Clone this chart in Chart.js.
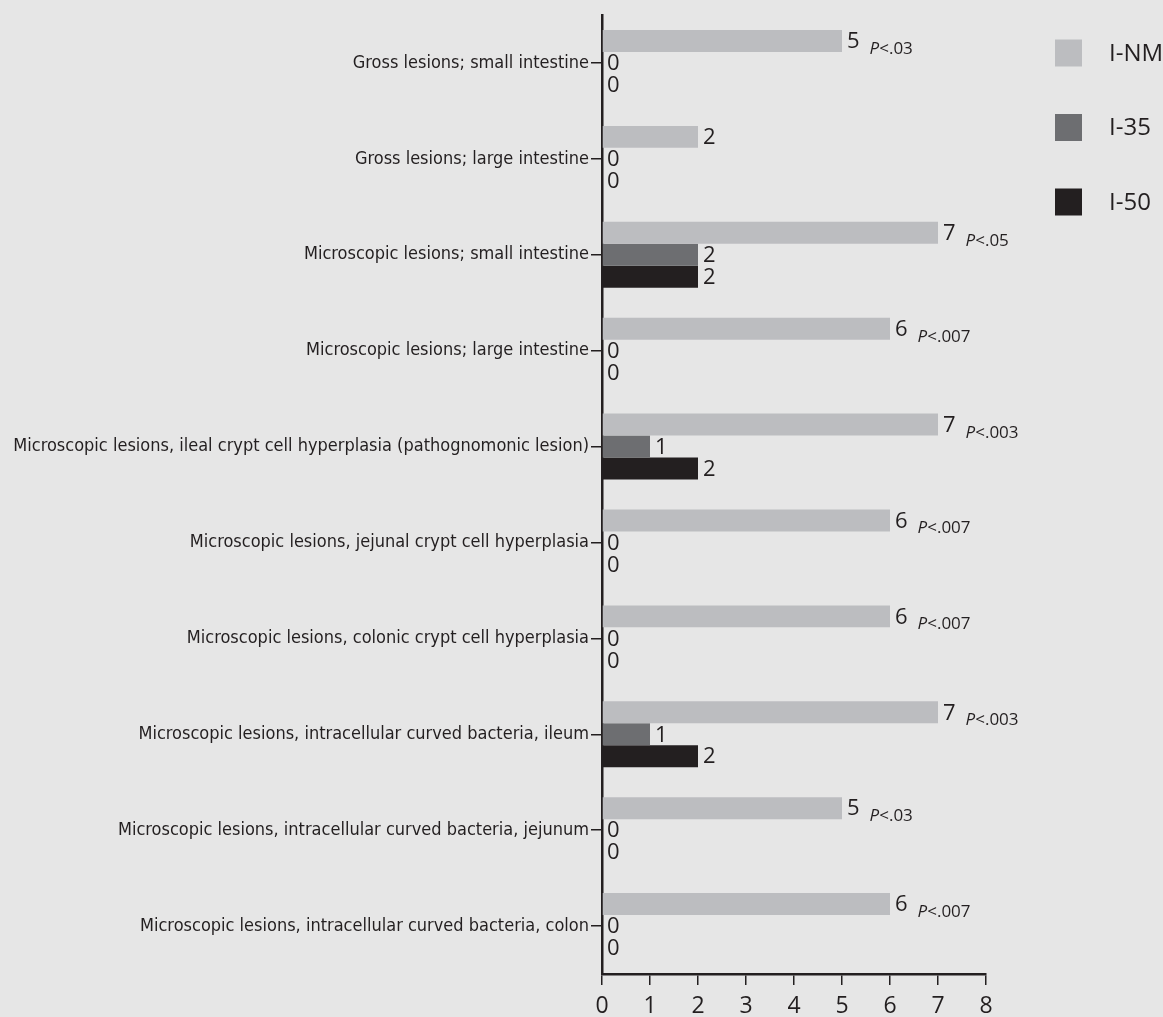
<!DOCTYPE html>
<html>
<head>
<meta charset="utf-8">
<script src="https://cdn.jsdelivr.net/npm/chart.js@4.4.1/dist/chart.umd.min.js"></script>
<style>
  html, body { margin: 0; padding: 0; background: #e6e6e6; }
  #wrap { width: 1163px; height: 1017px; position: relative; }
</style>
</head>
<body>
<div id="wrap"><canvas id="c" width="1163" height="1017"></canvas></div>
<script>
const categories = [
  'Gross lesions; small intestine',
  'Gross lesions; large intestine',
  'Microscopic lesions; small intestine',
  'Microscopic lesions; large intestine',
  'Microscopic lesions, ileal crypt cell hyperplasia (pathognomonic lesion)',
  'Microscopic lesions, jejunal crypt cell hyperplasia',
  'Microscopic lesions, colonic crypt cell hyperplasia',
  'Microscopic lesions, intracellular curved bacteria, ileum',
  'Microscopic lesions, intracellular curved bacteria, jejunum',
  'Microscopic lesions, intracellular curved bacteria, colon'
];
const seriesNames = ['I-NM', 'I-35', 'I-50'];
const valuesINM = [5, 2, 7, 6, 7, 6, 6, 7, 5, 6];
const valuesI35 = [0, 0, 2, 0, 1, 0, 0, 1, 0, 0];
const valuesI50 = [0, 0, 2, 0, 2, 0, 0, 2, 0, 0];
const pLabels = ['P<.03', '', 'P<.05', 'P<.007', 'P<.003', 'P<.007', 'P<.007', 'P<.003', 'P<.03', 'P<.007'];
const xMin = 0, xMax = 8, xStep = 1;

const colors = ['#bcbdc0', '#6d6e71', '#231f20'];
const ink = '#231f20';
const sans = '"Open Sans", "Noto Sans", sans-serif';
const narrow = '"DejaVu Sans Condensed", "DejaVu Sans", sans-serif';

const bgPlugin = {
  id: 'bg',
  beforeDraw(chart) {
    const ctx = chart.ctx;
    ctx.save();
    ctx.fillStyle = '#e6e6e6';
    ctx.fillRect(0, 0, chart.width, chart.height);
    ctx.restore();
  }
};

const valuePlugin = {
  id: 'values',
  afterDatasetsDraw(chart) {
    const ctx = chart.ctx;
    ctx.save();
    ctx.fillStyle = ink;
    chart.data.datasets.forEach((ds, di) => {
      const meta = chart.getDatasetMeta(di);
      meta.data.forEach((bar, i) => {
        const p = bar.getProps(['x', 'y', 'height'], true);
        const txt = String(ds.data[i]);
        ctx.font = '22px ' + sans;
        ctx.textAlign = 'left';
        ctx.textBaseline = 'middle';
        const tx = p.x + 5;
        ctx.fillText(txt, tx, p.y + 1);
        if (di === 0 && pLabels[i]) {
          const w = ctx.measureText(txt).width;
          let px = tx + w + 10;
          const py = p.y + p.height / 2 + 2;
          ctx.textBaseline = 'alphabetic';
          ctx.font = 'italic 17px ' + sans;
          ctx.fillText('P', px, py);
          px += ctx.measureText('P').width;
          ctx.font = '17px ' + sans;
          ctx.fillText(pLabels[i].slice(1), px, py);
        }
      });
    });
    ctx.restore();
  }
};

const legendPlugin = {
  id: 'customLegend',
  afterDraw(chart) {
    const ctx = chart.ctx;
    const area = chart.chartArea;
    ctx.save();
    chart.data.datasets.forEach((ds, i) => {
      const cy = 53 + i * 74.5;
      const x = area.right + 69;
      ctx.fillStyle = ds.backgroundColor;
      ctx.fillRect(x, cy - 13.5, 27, 27);
      ctx.fillStyle = ink;
      ctx.font = '24px ' + sans;
      ctx.textAlign = 'left';
      ctx.textBaseline = 'middle';
      ctx.fillText(ds.label, x + 54, cy + 1);
    });
    ctx.restore();
  }
};

new Chart(document.getElementById('c'), {
  type: 'bar',
  data: {
    labels: categories,
    datasets: [
      { label: seriesNames[0], data: valuesINM, backgroundColor: colors[0] },
      { label: seriesNames[1], data: valuesI35, backgroundColor: colors[1] },
      { label: seriesNames[2], data: valuesI50, backgroundColor: colors[2] }
    ]
  },
  options: {
    indexAxis: 'y',
    responsive: false,
    animation: false,
    devicePixelRatio: 1,
    layout: { padding: { left: 0, right: 177, top: 15, bottom: 0 } },
    datasets: { bar: { barPercentage: 1, categoryPercentage: 0.6875, borderWidth: 0 } },
    plugins: { legend: { display: false }, tooltip: { enabled: false } },
    scales: {
      x: {
        type: 'linear',
        min: xMin, max: xMax,
        ticks: { stepSize: xStep, color: ink, font: { family: sans, size: 23 }, padding: 8, maxRotation: 0 },
        grid: { display: true, drawOnChartArea: false, drawTicks: true, tickLength: 11, color: ink, lineWidth: 1.5 },
        border: { display: true, color: ink, width: 2.5 },
        afterFit(scale) { scale.height = 43; }
      },
      y: {
        type: 'category',
        offset: true,
        z: 1,
        ticks: { color: ink, font: { family: narrow, size: 18 }, padding: 2, autoSkip: false },
        grid: { display: true, offset: false, drawOnChartArea: false, drawTicks: true, tickLength: 11, color: ink, lineWidth: 1.5 },
        border: { display: true, color: ink, width: 2.5 },
        afterFit(scale) { scale.width = 602; }
      }
    }
  },
  plugins: [bgPlugin, valuePlugin, legendPlugin]
});
</script>
</body>
</html>
